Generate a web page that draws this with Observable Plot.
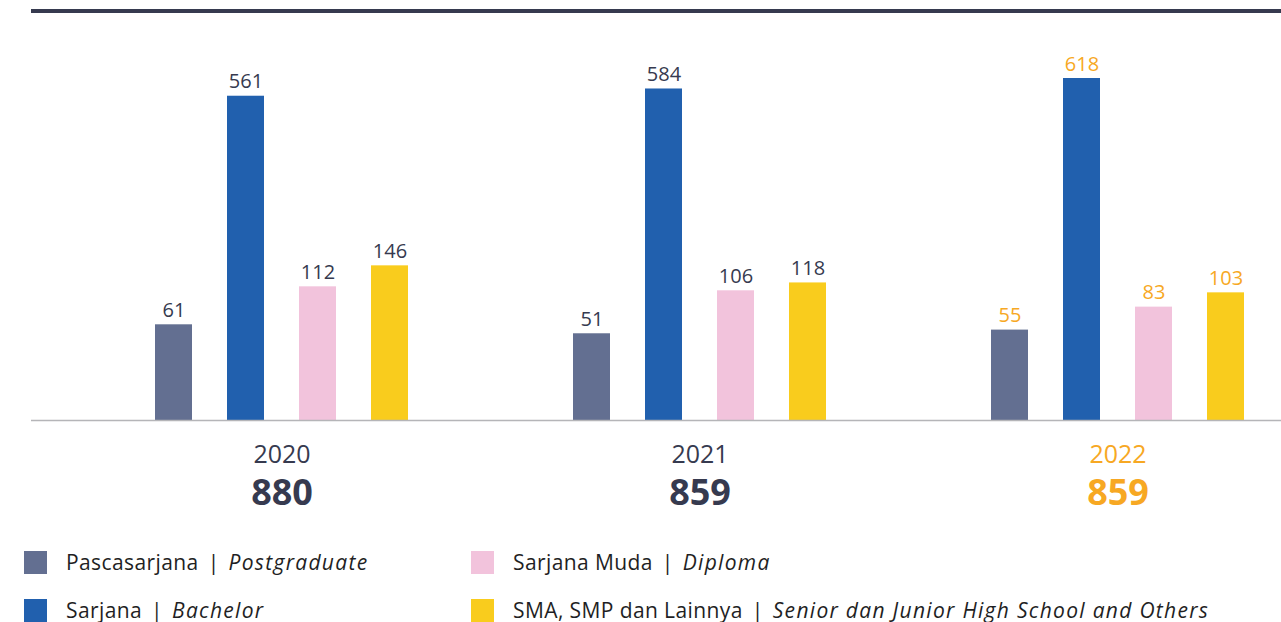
<!DOCTYPE html>
<html>
<head>
<meta charset="utf-8">
<script src="https://cdn.jsdelivr.net/npm/d3@7"></script>
<script src="https://cdn.jsdelivr.net/npm/@observablehq/plot@0.6"></script>
<style>
  html, body { margin: 0; padding: 0; background: #fff; }
  body { width: 1281px; height: 622px; overflow: hidden; font-family: "Open Sans", "Noto Sans", sans-serif; }
  #chart { position: relative; }
  .legend { position: relative; height: 100px; }
  .item { position: absolute; display: flex; align-items: center; font-size: 21px; color: #1f1f24; white-space: nowrap; letter-spacing: 0.4px; }
  .sw { width: 23px; height: 23px; margin-right: 19px; }
  .item i { font-style: italic; letter-spacing: 1.3px; }
  .sep { margin: 0 9px; }
</style>
</head>
<body>
<div id="chart"></div>
<div class="legend" id="legend"></div>
<script>
const years = [2020, 2021, 2022];
const totals = [880, 859, 859];
const categories = ["Pascasarjana", "Sarjana", "Sarjana Muda", "SMA, SMP dan Lainnya"];
const categoriesEn = ["Postgraduate", "Bachelor", "Diploma", "Senior dan Junior High School and Others"];
const pascasarjana = [61, 51, 55];
const sarjana = [561, 584, 618];
const sarjanaMuda = [112, 106, 83];
const sma = [146, 118, 103];
const colors = ["#636f91", "#2160ae", "#f2c3dc", "#f9cc1d"];
const highlightYear = 2022;
const darkText = "#363a4f";
const orange = "#f7a823";

const series = [pascasarjana, sarjana, sarjanaMuda, sma];
const rows = [];
years.forEach((yr, i) => categories.forEach((c, j) => rows.push({year: yr, category: c, value: series[j][i]})));
const totalRows = years.map((yr, i) => ({year: yr, total: totals[i]}));
const textColor = d => d.year === highlightYear ? orange : darkText;

const chart = Plot.plot({
  width: 1281,
  height: 530,
  marginTop: 78,
  marginBottom: 110,
  marginLeft: 118,
  marginRight: 0,
  style: {fontFamily: "'Open Sans', 'Noto Sans', sans-serif", background: "#fff"},
  fx: {domain: years, paddingInner: 0.218, paddingOuter: 0, axis: null},
  x: {domain: categories, padding: 0.48, axis: null},
  y: {type: "pow", exponent: 0.55, domain: [0, 618], axis: null},
  color: {domain: categories, range: colors},
  marks: [
    Plot.barY(rows, {fx: "year", x: "category", y: "value", fill: "category"}),
    Plot.text(rows, {fx: "year", x: "category", y: "value", text: d => String(d.value), lineAnchor: "bottom", dy: -8, fontSize: 20, fill: textColor}),
    Plot.text(totalRows, {fx: "year", text: d => String(d.year), frameAnchor: "bottom", lineAnchor: "middle", dy: 34, fontSize: 25, fill: textColor}),
    Plot.text(totalRows, {fx: "year", text: d => String(d.total), frameAnchor: "bottom", lineAnchor: "middle", dy: 73, fontSize: 36, fontWeight: "bold", fill: textColor})
  ]
});
document.getElementById("chart").appendChild(chart);

// Decorative rules: baseline at y = 0 from the library's scale, plus a heavy top rule
const svg = d3.select(chart);
const y0 = chart.scale("y").apply(0);
svg.append("line").attr("x1", 31).attr("x2", 1281).attr("y1", y0 + 0.5).attr("y2", y0 + 0.5)
  .attr("stroke", "#b5b5b8").attr("stroke-width", 1.5);
svg.append("line").attr("x1", 31).attr("x2", 1281).attr("y1", 11).attr("y2", 11)
  .attr("stroke", "#363a4f").attr("stroke-width", 4);

// Legend
const legend = document.getElementById("legend");
const pos = [[24, 32], [24, 80], [471, 32], [471, 80]];
categories.forEach((c, j) => {
  const el = document.createElement("div");
  el.className = "item";
  el.style.left = pos[j][0] + "px";
  el.style.top = (pos[j][1] - 14) + "px";
  el.innerHTML = `<span class="sw" style="background:${colors[j]}"></span><span>${c}</span><span class="sep">|</span><i>${categoriesEn[j]}</i>`;
  legend.appendChild(el);
});
</script>
</body>
</html>
